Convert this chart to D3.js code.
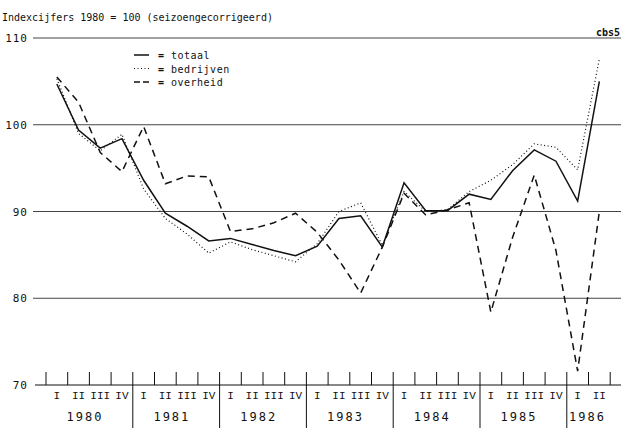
<!DOCTYPE html>
<html lang="nl">
<head>
<meta charset="utf-8">
<title>Indexcijfers 1980 = 100</title>
<script src="https://cdn.jsdelivr.net/npm/d3@7"></script>
<style>
  body { margin: 0; background: #fff; }
  svg text { fill: #111; }
  .mono { font-family: "DejaVu Sans Mono", monospace; }
  .roman { font-family: "Liberation Mono", monospace; }
</style>
</head>
<body>
<script>
// data
var years = ["1980", "1981", "1982", "1983", "1984", "1985", "1986"];
var quarterNames = ["I", "II", "III", "IV"];
var yTicks = [70, 80, 90, 100, 110];
var totaal    = [104.7, 99.4, 97.3, 98.4, 93.6, 89.8, 88.3, 86.6, 86.9, 86.2, 85.5, 84.9, 86.0,
                 89.2, 89.5, 85.9, 93.3, 90.1, 90.1, 92.0, 91.4, 94.7, 97.1, 95.8, 91.2, 105.0];
var bedrijven = [105.3, 99.0, 97.0, 98.9, 92.6, 89.2, 87.4, 85.2, 86.5, 85.6, 84.9, 84.2, 86.3,
                 90.0, 91.0, 86.1, 92.3, 90.0, 90.2, 92.3, 93.6, 95.4, 97.8, 97.4, 94.8, 107.6];
var overheid  = [105.5, 102.6, 96.8, 94.6, 99.8, 93.2, 94.1, 94.0, 87.7, 88.0, 88.7, 89.8, 87.6,
                 84.4, 80.6, 85.9, 92.1, 89.6, 90.2, 91.0, 78.4, 87.0, 94.2, 85.5, 71.6, 90.0];
var seriesNames = ["totaal", "bedrijven", "overheid"];

var w = 621, h = 428;
var nQ = totaal.length; // 26 quarters

var svg = d3.select("body").append("svg")
    .attr("width", w)
    .attr("height", h);

// quarter index -> x (boundaries at integers, points at i + 0.5)
var x = d3.scaleLinear().domain([0, 28]).range([46, 46 + 28 * 21.7]);
var y = d3.scaleLinear().domain([70, 110]).range([385, 38]);

// title
svg.append("text").attr("class", "mono")
    .attr("x", 2).attr("y", 21)
    .attr("font-size", 10)
    .text("Indexcijfers 1980 = 100 (seizoengecorrigeerd)");

svg.append("text").attr("class", "mono")
    .attr("x", 620).attr("y", 36)
    .attr("text-anchor", "end")
    .attr("font-size", 10).attr("font-weight", "bold")
    .text("cbs5");

// horizontal grid lines + y labels
svg.selectAll(".grid").data(yTicks).enter().append("line")
    .attr("x1", d => d == 70 ? 35 : 33).attr("x2", w)
    .attr("y1", d => y(d)).attr("y2", d => y(d))
    .attr("stroke", d => d == 70 ? "#111" : "#444")
    .attr("stroke-width", 1);

svg.selectAll(".ylab").data(yTicks).enter().append("text")
    .attr("class", "mono")
    .attr("x", 28).attr("y", d => y(d) + 4)
    .attr("text-anchor", "end")
    .attr("font-size", 11)
    .attr("letter-spacing", 1)
    .text(d => d);

// quarter ticks above the axis
var bounds = d3.range(0, nQ + 1);
svg.selectAll(".qtick").data(bounds).enter().append("line")
    .attr("x1", d => x(d)).attr("x2", d => x(d))
    .attr("y1", y(70) - 13)
    .attr("y2", d => (d % 4 == 0 && d > 0) ? h : y(70))
    .attr("stroke", "#111").attr("stroke-width", 1);

// quarter labels
svg.selectAll(".qlab").data(d3.range(nQ)).enter().append("text")
    .attr("class", "roman")
    .attr("x", d => x(d + 0.5)).attr("y", 399)
    .attr("text-anchor", "middle")
    .attr("font-size", 11)
    .text(d => quarterNames[d % 4]);

// year labels
svg.selectAll(".ylabel").data(years).enter().append("text")
    .attr("class", "mono")
    .attr("x", (d, i) => i < years.length - 1 ? x(i * 4 + 1.8) : x(i * 4 + 0.95))
    .attr("y", 421)
    .attr("text-anchor", "middle")
    .attr("font-size", 12)
    .attr("letter-spacing", 2)
    .text(d => d);

// lines
var line = d3.line()
    .x((d, i) => x(i + 0.5))
    .y(d => y(d));

var styles = {
    totaal:    { dash: null,  width: 1.5 },
    bedrijven: { dash: "1,2.5", width: 1.2 },
    overheid:  { dash: "7,5", width: 1.5 }
};
var series = { totaal: totaal, bedrijven: bedrijven, overheid: overheid };

seriesNames.forEach(function (name) {
    svg.append("path")
        .datum(series[name])
        .attr("d", line)
        .attr("fill", "none")
        .attr("stroke", "#111")
        .attr("stroke-width", styles[name].width)
        .attr("stroke-dasharray", styles[name].dash);
});

// legend
var leg = svg.append("g").attr("transform", "translate(134,55)");
seriesNames.forEach(function (name, i) {
    var g = leg.append("g").attr("transform", "translate(0," + (i * 13.5) + ")");
    g.append("line")
        .attr("x1", 0).attr("x2", 15)
        .attr("stroke", "#111")
        .attr("stroke-width", styles[name].width)
        .attr("stroke-dasharray", name == "overheid" ? "6,3" : styles[name].dash);
    g.append("text").attr("class", "mono")
        .attr("x", 24).attr("y", 4)
        .attr("font-size", 10).attr("font-weight", "bold")
        .text("=");
    g.append("text").attr("class", "mono")
        .attr("x", 37).attr("y", 4)
        .attr("font-size", 10)
        .attr("letter-spacing", 0.5)
        .text(name);
});
</script>
</body>
</html>
